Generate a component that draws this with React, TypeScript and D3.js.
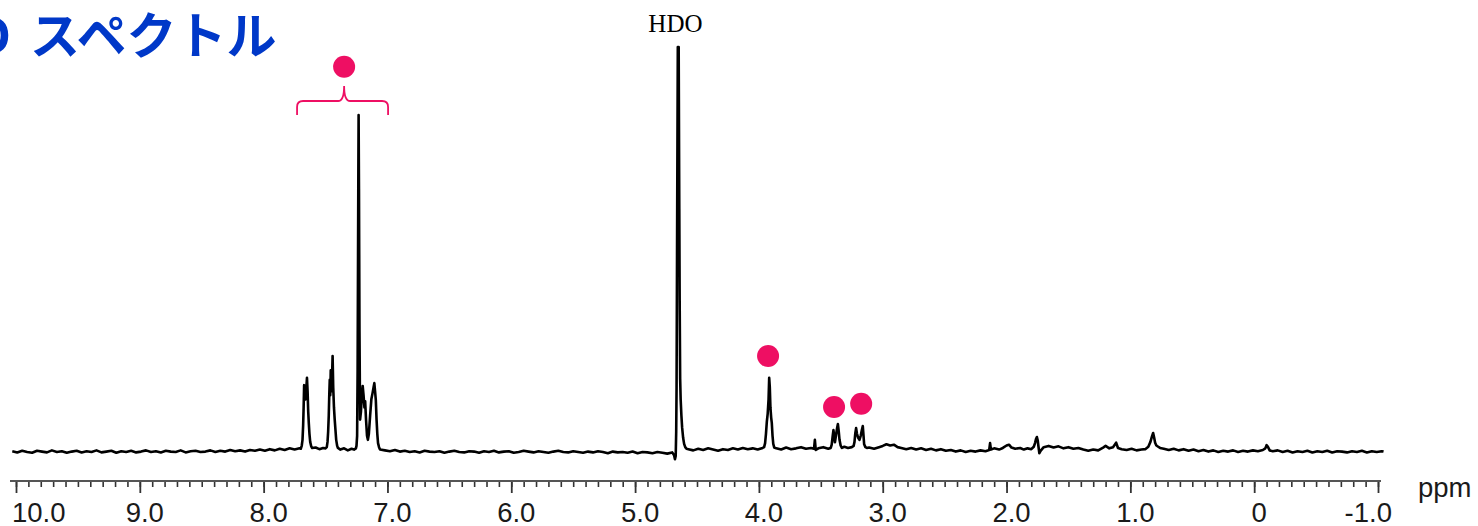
import React, { useEffect, useRef } from 'react';
import * as d3 from 'd3';

// axis: major ticks and their labels (ppm)
const ppmMajor = [10, 9, 8, 7, 6, 5, 4, 3, 2, 1, 0, -1];
const ppmLabels = ['10.0', '9.0', '8.0', '7.0', '6.0', '5.0', '4.0', '3.0', '2.0', '1.0', '0', '-1.0'];

// baseline stretches, one value every 0.04 ppm from the start shift
const STEP = 0.04;
const noiseLeftStart = 10.03;
const noiseLeft = [
  0.2, -0.1, 0.3, 0.0, -0.2, 0.3, 0.1, -0.1, 0.4, 0.0,
  0.2, -0.2, 0.1, 0.3, -0.1, 0.2, 0.0, 0.4, -0.1, 0.1,
  0.3, -0.2, 0.2, 0.0, 0.3, -0.1, 0.1, 0.4, 0.0, 0.2,
  -0.1, 0.3, 0.1, 0.0, 0.4, -0.1, 0.2, 0.3, 0.0, 0.1,
  0.4, 0.0, 0.3, 0.1, 0.5, 0.2, 0.4, 0.1, 0.5, 0.3,
  0.6, 0.3, 0.7, 0.4, 0.8, 0.5, 0.9, 0.6, 0.9,
];
const noiseMidStart = 7.06;
const noiseMid = [
  0.6, 0.4, 0.2, 0.5, 0.1, 0.3, 0.0, 0.2, -0.1, 0.3,
  0.1, 0.0, 0.2, -0.2, 0.1, 0.3, 0.0, -0.1, 0.2, 0.1,
  -0.2, 0.2, 0.0, 0.3, -0.1, 0.1, 0.2, -0.2, 0.0, 0.3,
  0.1, -0.1, 0.2, 0.0, -0.2, 0.1, 0.3, 0.0, -0.1, 0.2,
  0.0, -0.2, 0.1, -0.1, 0.2, 0.0, -0.3, 0.1, -0.1, 0.0,
  -0.2, 0.1, -0.3, 0.0, -0.1, -0.3, 0.0, -0.2, -0.4, -0.1,
];
const noiseHdoStart = 4.57;
const noiseHdo = [0.7, 0.4, 0.8, 0.5, 0.9, 0.6, 0.3, 0.7, 0.5, 0.9, 0.6, 1.0, 0.7, 0.9, 0.6, 1.0];

// peaks and the rest of the trace, [ppm, intensity] (HDO top = 100)
const aromatic: [number, number][] = [
  [7.70, 0.8], [7.692, 1.6], [7.686, 3], [7.681, 6.5], [7.677, 11], [7.673, 16.5], [7.668, 14],
  [7.662, 13], [7.656, 15.5], [7.650, 18.3], [7.645, 15], [7.640, 10], [7.635, 7], [7.630, 4.5],
  [7.624, 2.5], [7.616, 1.4], [7.608, 1.0], [7.58, 1.1], [7.55, 0.7], [7.52, 1.0], [7.50, 0.9],
  [7.49, 1.2], [7.484, 2.5], [7.479, 5], [7.474, 9], [7.470, 14], [7.466, 17.8], [7.462, 14],
  [7.458, 20.2], [7.453, 15], [7.448, 18], [7.443, 23.7], [7.438, 16], [7.432, 11], [7.426, 8],
  [7.420, 5.5], [7.414, 3], [7.406, 1.5], [7.40, 1.0],
  [7.38, 0.6], [7.35, 0.9], [7.32, 0.4], [7.29, 0.8], [7.27, 0.6], [7.255, 0.9],
  [7.250, 1.5], [7.245, 4], [7.241, 20], [7.238, 45], [7.235, 70], [7.233, 83.2], [7.230, 65],
  [7.226, 30], [7.221, 8], [7.214, 10], [7.207, 14], [7.200, 16.3], [7.193, 14], [7.186, 11],
  [7.180, 12.5], [7.173, 8], [7.165, 4], [7.158, 3.0], [7.150, 4.5], [7.140, 9], [7.130, 13],
  [7.120, 14.6], [7.112, 16], [7.106, 17.0], [7.100, 15], [7.094, 12.8], [7.088, 8], [7.082, 4.5],
  [7.076, 2.2], [7.068, 1.2],
];
const hdo: [number, number][] = [
  [4.685, -0.8], [4.678, -1.8], [4.672, -1.0], [4.668, 5], [4.665, 16], [4.660, 60], [4.655, 100],
  [4.648, 100], [4.643, 60], [4.640, 37.5], [4.636, 18], [4.632, 13], [4.626, 9], [4.620, 6],
  [4.612, 3.5], [4.604, 2], [4.595, 1.2], [4.585, 0.8],
];
const aliphatic: [number, number][] = [
  [3.958, 1.2], [3.950, 2.2], [3.943, 4.5], [3.936, 7.5], [3.929, 9.5], [3.922, 13], [3.917, 18.3],
  [3.912, 16], [3.907, 11], [3.901, 8.5], [3.896, 7.2], [3.890, 4], [3.884, 2], [3.876, 1.1],
  [3.86, 0.9], [3.82, 0.6], [3.78, 1.1], [3.74, 0.7], [3.70, 0.9], [3.66, 1.2], [3.62, 0.8],
  [3.58, 1.0], [3.555, 0.8], [3.548, 3.0], [3.541, 0.5], [3.52, 0.9], [3.48, 1.2], [3.44, 0.8],
  [3.42, 1.0], [3.412, 1.8], [3.404, 4], [3.398, 5.4], [3.392, 4], [3.386, 2.4], [3.378, 4],
  [3.368, 6], [3.362, 6.9], [3.355, 5], [3.349, 3], [3.340, 1.6], [3.33, 1.0],
  [3.31, 1.3], [3.28, 1.0], [3.25, 1.2], [3.235, 1.5],
  [3.228, 2.5], [3.222, 4.5], [3.215, 5.9], [3.208, 4.5], [3.198, 3.5], [3.188, 3.0], [3.178, 4],
  [3.168, 5.5], [3.161, 6.4], [3.155, 4], [3.150, 1.9], [3.140, 1.2], [3.128, 1.0],
];
const highField: [number, number][] = [
  [3.11, 1.1], [3.07, 0.8], [3.03, 1.2], [3.00, 1.5], [2.97, 1.9], [2.94, 1.6], [2.91, 1.8],
  [2.88, 1.2], [2.85, 1.0], [2.81, 0.7], [2.77, 1.0], [2.73, 0.6], [2.69, 0.9], [2.65, 0.5],
  [2.61, 0.8], [2.57, 0.4], [2.53, 0.7], [2.49, 0.3], [2.45, 0.5], [2.41, 0.1], [2.37, 0.4],
  [2.33, 0.0], [2.29, 0.3], [2.25, 0.1], [2.21, 0.4], [2.17, 0.2], [2.14, 0.5], [2.133, 2.2],
  [2.126, 0.6], [2.10, 0.9], [2.06, 0.6], [2.03, 1.0], [2.00, 1.6], [1.98, 1.8], [1.96, 1.1],
  [1.93, 0.8], [1.89, 1.0], [1.86, 0.6], [1.83, 0.9], [1.80, 0.7], [1.78, 1.3], [1.77, 2.2],
  [1.762, 3.2], [1.755, 3.7], [1.748, 2.8], [1.742, 1.3], [1.735, -0.3], [1.725, 0.3],
  [1.70, 1.2], [1.66, 1.5], [1.62, 1.1], [1.58, 1.4], [1.54, 0.9], [1.50, 1.2], [1.46, 0.8],
  [1.42, 1.0], [1.38, 0.6], [1.34, 0.3], [1.30, 0.6], [1.26, 0.4], [1.22, 1.1], [1.20, 1.5],
  [1.17, 0.9], [1.14, 1.2], [1.115, 2.3], [1.10, 1.0], [1.07, 0.7], [1.03, 0.5], [0.99, 0.8],
  [0.95, 0.4], [0.91, 0.6], [0.88, 0.7], [0.855, 1.3], [0.838, 2.5], [0.826, 3.8], [0.816, 4.7],
  [0.808, 3.6], [0.800, 2.3], [0.79, 1.6], [0.775, 1.3], [0.76, 1.0], [0.73, 0.8], [0.69, 0.5],
  [0.65, 0.8], [0.61, 0.4], [0.57, 0.7], [0.53, 0.3], [0.49, 0.6], [0.45, 0.2], [0.41, 0.5],
  [0.37, 0.1], [0.33, 0.4], [0.29, 0.0], [0.25, 0.3], [0.21, 0.1], [0.17, 0.4], [0.13, 0.0],
  [0.09, 0.3], [0.05, 0.1], [0.01, 0.4], [-0.03, 0.2], [-0.07, 0.5], [-0.09, 0.9], [-0.10, 1.7],
  [-0.112, 1.2], [-0.125, 0.4], [-0.15, 0.2], [-0.19, 0.4], [-0.23, 0.0], [-0.27, 0.3],
  [-0.31, -0.1], [-0.35, 0.2], [-0.39, 0.0], [-0.43, 0.3], [-0.47, -0.1], [-0.51, 0.2],
  [-0.55, 0.0], [-0.59, 0.3], [-0.63, -0.1], [-0.67, 0.2], [-0.71, 0.1], [-0.75, -0.1],
  [-0.79, 0.2], [-0.83, 0.0], [-0.87, 0.3], [-0.91, -0.1], [-0.95, 0.2], [-0.99, 0.0],
  [-1.03, 0.2], [-1.045, 0.1],
];

// pink markers [ppm, intensity]; the first one sits over the bracket
const markers: [number, number][] = [[7.35, 95.1], [3.926, 23.7], [3.393, 11.1], [3.174, 11.9]];
const bracketFrom = 7.73;
const bracketTo = 6.995;
const hdoPpm = 4.65;

const PINK = '#ee0f63';

function stretch(start: number, vals: number[]): [number, number][] {
  return vals.map((v, i) => [start - i * STEP, v]);
}

export default function App() {
  const ref = useRef<SVGSVGElement>(null);

  useEffect(() => {
    const svg = d3.select(ref.current);
    svg.selectAll('*').remove();

    const x = d3.scaleLinear().domain([10, -1]).range([16, 1378]);
    const y = d3.scaleLinear().domain([0, 100]).range([452, 47]);

    // title (cut off at the left edge like the slide)
    const title = svg.append('g')
      .attr('font-family', '"Noto Sans CJK JP", "Noto Sans", sans-serif')
      .attr('font-weight', 700)
      .attr('font-size', 50)
      .attr('fill', '#0038c8');
    title.append('text').attr('x', 11).attr('y', 54).attr('text-anchor', 'end').text('D');
    title.append('text').attr('x', 30).attr('y', 54).text('スペクトル');

    // spectrum trace
    const data = [
      ...stretch(noiseLeftStart, noiseLeft),
      ...aromatic,
      ...stretch(noiseMidStart, noiseMid),
      ...hdo,
      ...stretch(noiseHdoStart, noiseHdo),
      ...aliphatic,
      ...highField,
    ].sort((a, b) => b[0] - a[0]);

    svg.append('path')
      .datum(data)
      .attr('fill', 'none')
      .attr('stroke', '#000')
      .attr('stroke-width', 2.6)
      .attr('stroke-linejoin', 'round')
      .attr('d', d3.line<[number, number]>()
        .x(d => x(d[0]))
        .y(d => y(d[1])));

    // axis
    const axisY = 481;
    const minor = d3.range(-10, 101).map(i => i / 10);
    svg.append('g')
      .attr('transform', `translate(0,${axisY})`)
      .call(d3.axisBottom(x).tickValues(minor).tickSize(6).tickFormat(() => ''))
      .call(g => g.select('.domain').remove())
      .call(g => g.selectAll('.tick line').attr('stroke', '#333').attr('stroke-width', 1.6));
    svg.append('g')
      .attr('transform', `translate(0,${axisY})`)
      .call(d3.axisBottom(x).tickValues(ppmMajor).tickSize(12).tickFormat(() => ''))
      .call(g => g.select('.domain').remove())
      .call(g => g.selectAll('.tick line').attr('stroke', '#333').attr('stroke-width', 1.8));
    svg.append('line')
      .attr('x1', 10).attr('x2', 1381)
      .attr('y1', axisY).attr('y2', axisY)
      .attr('stroke', '#555').attr('stroke-width', 2);

    const last = ppmMajor.length - 1;
    svg.append('g')
      .attr('font-family', '"Liberation Sans", Arial, sans-serif')
      .attr('font-size', 27.5)
      .attr('fill', '#1a1a1a')
      .selectAll('text')
      .data(ppmMajor)
      .join('text')
      .attr('x', (d, i) => (i === 0 ? x(d) - 4 : i === last ? x(d) + 14 : x(d) + 5))
      .attr('y', 522)
      .attr('text-anchor', (d, i) => (i === 0 ? 'start' : i === last ? 'end' : 'middle'))
      .text((d, i) => ppmLabels[i]);

    svg.append('text')
      .attr('x', 1418).attr('y', 497)
      .attr('font-family', '"Liberation Sans", Arial, sans-serif')
      .attr('font-size', 27.5)
      .attr('fill', '#1a1a1a')
      .text('ppm');

    // HDO label
    svg.append('text')
      .attr('x', x(hdoPpm) - 3).attr('y', 32)
      .attr('text-anchor', 'middle')
      .attr('font-family', '"Liberation Serif", "Times New Roman", serif')
      .attr('font-size', 25)
      .attr('fill', '#000')
      .text('HDO');

    // bracket over the aromatic multiplets
    const bl = x(bracketFrom), br = x(bracketTo), bc = x(markers[0][0]);
    const by = 101, bEnd = 115, bTip = 86, r = 6;
    svg.append('path')
      .attr('fill', 'none')
      .attr('stroke', PINK)
      .attr('stroke-width', 1.8)
      .attr('d', `M${bl},${bEnd} L${bl},${by + r} Q${bl},${by} ${bl + r},${by} L${bc - r},${by} Q${bc},${by} ${bc},${bTip}`
        + ` Q${bc},${by} ${bc + r},${by} L${br - r},${by} Q${br},${by} ${br},${by + r} L${br},${bEnd}`);

    svg.append('g')
      .selectAll('circle')
      .data(markers)
      .join('circle')
      .attr('cx', d => x(d[0]))
      .attr('cy', d => y(d[1]))
      .attr('r', 11)
      .attr('fill', PINK);
  }, []);

  return (
    <svg
      ref={ref}
      width={1478}
      height={526}
      style={{ position: 'absolute', left: 0, top: 0, background: '#fff' }}
    />
  );
}
